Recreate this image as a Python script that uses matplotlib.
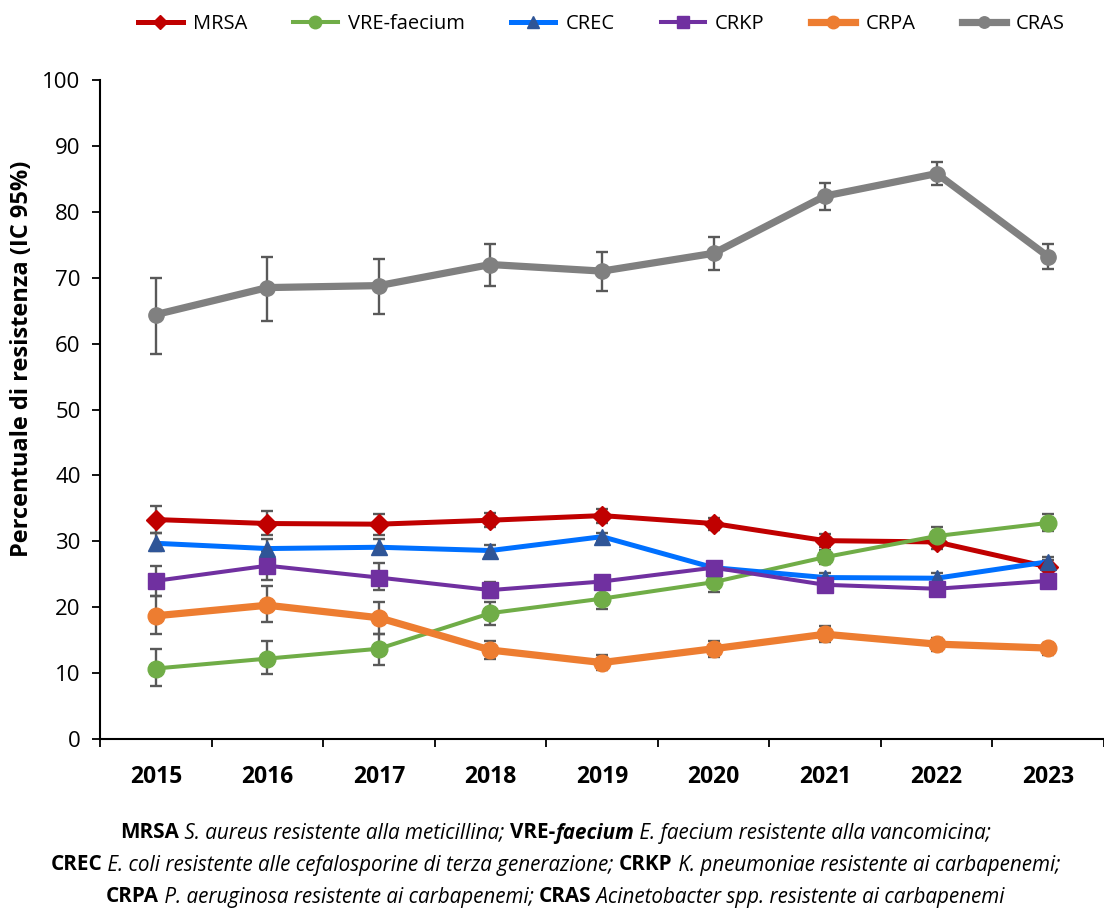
"""Resistance percentages (95% CI) by pathogen, 2015-2023."""

import matplotlib

matplotlib.use("Agg")
import matplotlib.pyplot as plt
from matplotlib.lines import Line2D
import numpy as np

plt.rcParams["font.family"] = ["Open Sans", "DejaVu Sans"]

YEARS = ["2015", "2016", "2017", "2018", "2019", "2020", "2021", "2022", "2023"]

MRSA = [33.3, 32.7, 32.6, 33.2, 33.9, 32.7, 30.1, 29.9, 26.1]
MRSA_LO = [31.3, 30.9, 30.9, 32.1, 32.8, 31.7, 29.1, 28.9, 25.1]
MRSA_HI = [35.4, 34.6, 34.2, 34.3, 34.9, 33.6, 31.1, 31.0, 27.1]

VRE = [10.7, 12.2, 13.7, 19.1, 21.3, 23.8, 27.6, 30.8, 32.8]
VRE_LO = [8.1, 9.9, 11.3, 17.3, 19.7, 22.3, 26.6, 29.7, 31.5]
VRE_HI = [13.6, 14.8, 16.0, 20.8, 22.8, 24.9, 28.7, 32.1, 34.1]

CREC = [29.7, 28.9, 29.1, 28.6, 30.7, 26.0, 24.5, 24.4, 26.9]
CREC_LO = [28.5, 28.0, 28.1, 27.7, 30.0, 25.4, 23.8, 23.7, 26.2]
CREC_HI = [31.2, 30.3, 30.3, 29.5, 31.3, 26.6, 25.2, 25.2, 27.6]

CRKP = [24.0, 26.3, 24.5, 22.6, 23.9, 26.0, 23.4, 22.8, 24.0]
CRKP_LO = [21.7, 24.2, 22.6, 21.4, 23.1, 25.2, 22.6, 22.0, 23.2]
CRKP_HI = [26.3, 28.5, 26.7, 23.9, 24.7, 26.8, 24.2, 23.6, 24.8]

CRPA = [18.7, 20.3, 18.4, 13.5, 11.6, 13.7, 15.9, 14.4, 13.8]
CRPA_LO = [15.9, 17.7, 16.0, 12.1, 10.5, 12.5, 14.7, 13.3, 12.7]
CRPA_HI = [21.7, 23.2, 20.8, 14.9, 12.8, 14.9, 17.1, 15.4, 14.6]

CRAS = [64.4, 68.5, 68.8, 72.0, 71.0, 73.7, 82.4, 85.8, 73.2]
CRAS_LO = [58.4, 63.4, 64.5, 68.7, 68.0, 71.1, 80.3, 84.0, 71.3]
CRAS_HI = [70.0, 73.1, 72.9, 75.1, 73.9, 76.1, 84.3, 87.5, 75.1]

# name, values, low, high, line colour, marker, marker colour, line width, marker size
SERIES = [
    ("MRSA", MRSA, MRSA_LO, MRSA_HI, "#C00000", "D", "#C00000", 3.6, 10),
    ("VRE-faecium", VRE, VRE_LO, VRE_HI, "#70AD47", "o", "#70AD47", 2.9, 12),
    ("CREC", CREC, CREC_LO, CREC_HI, "#0070FF", "^", "#2F5597", 3.6, 11),
    ("CRKP", CRKP, CRKP_LO, CRKP_HI, "#7030A0", "s", "#7030A0", 2.9, 11),
    ("CRPA", CRPA, CRPA_LO, CRPA_HI, "#ED7D31", "o", "#ED7D31", 5.2, 12),
    ("CRAS", CRAS, CRAS_LO, CRAS_HI, "#808080", "o", "#808080", 5.2, 11),
]

# footnote lines: (text, weight, style) segments
FOOTNOTE = [
    [("MRSA", "bold", "normal"), (" S. aureus resistente alla meticillina; ", "normal", "italic"),
     ("VRE-", "bold", "normal"), ("faecium", "bold", "italic"),
     (" E. faecium resistente alla vancomicina;", "normal", "italic")],
    [("CREC", "bold", "normal"),
     (" E. coli resistente alle cefalosporine di terza generazione; ", "normal", "italic"),
     ("CRKP", "bold", "normal"), (" K. pneumoniae resistente ai carbapenemi;", "normal", "italic")],
    [("CRPA", "bold", "normal"), (" P. aeruginosa resistente ai carbapenemi; ", "normal", "italic"),
     ("CRAS", "bold", "normal"), (" Acinetobacter spp. resistente ai carbapenemi", "normal", "italic")],
]


def draw_rich_line(fig, renderer, y, segments, size):
    texts = []
    widths = []
    for text, weight, style in segments:
        t = fig.text(0, y, text, fontsize=size, fontweight=weight, fontstyle=style,
                     ha="left", va="center", color="#000000")
        texts.append(t)
        widths.append(t.get_window_extent(renderer).width)
    fig_w = fig.bbox.width
    x = (fig_w - sum(widths)) / 2 / fig_w + 0.003
    for t, w in zip(texts, widths):
        t.set_x(x)
        x += w / fig_w


fig = plt.figure(figsize=(11.04, 9.09), dpi=100)
ax = fig.add_axes([0.0906, 0.187, 0.9094, 0.725])

x = np.arange(len(YEARS))
handles = []
for name, vals, lo, hi, color, marker, mcolor, lw, ms in SERIES:
    vals = np.array(vals)
    err = [vals - np.array(lo), np.array(hi) - vals]
    ax.errorbar(x, vals, yerr=err, fmt="none", ecolor="#595959", elinewidth=1.7,
                capsize=4.5, capthick=1.7, zorder=2)
    ax.plot(x, vals, color=color, lw=lw, zorder=3, solid_capstyle="round")
    ax.plot(x, vals, ls="none", marker=marker, ms=ms, color=mcolor,
            markeredgecolor=mcolor, zorder=4)
    handles.append(Line2D([], [], color=color, lw=lw, marker=marker, ms=ms * 0.75,
                          markerfacecolor=mcolor, markeredgecolor=mcolor, label=name))

ax.set_xlim(-0.5, len(YEARS) - 0.5)
ax.set_ylim(0, 100)
ax.set_yticks(range(0, 101, 10))
ax.tick_params(axis="y", labelsize=16, length=6, width=1.3, direction="out", pad=8)
ax.set_xticks(x)
ax.set_xticklabels(YEARS, fontsize=16.5, fontweight="bold")
ax.set_xticks(np.arange(-0.5, len(YEARS)), minor=True)
ax.tick_params(axis="x", which="major", length=0, pad=19)
ax.tick_params(axis="x", which="minor", length=6, width=1.3, direction="out")
for side in ("top", "right"):
    ax.spines[side].set_visible(False)
for side in ("left", "bottom"):
    ax.spines[side].set_linewidth(1.5)

fig.text(0.02, 1 - 359 / 909, "Percentuale di resistenza (IC 95%)", rotation=90,
         fontsize=17, fontweight="bold", ha="center", va="center")

fig.legend(handles=handles, loc="upper center", bbox_to_anchor=(0.545, 1.005), ncol=6,
           frameon=False, fontsize=14.5, handlelength=2.2, columnspacing=2.3,
           handletextpad=0.5)

renderer = fig.canvas.get_renderer()
for i, line in enumerate(FOOTNOTE):
    draw_rich_line(fig, renderer, 1 - (833 + 32 * i) / 909, line, 14.9)

fig.savefig("out.png", dpi=100)
